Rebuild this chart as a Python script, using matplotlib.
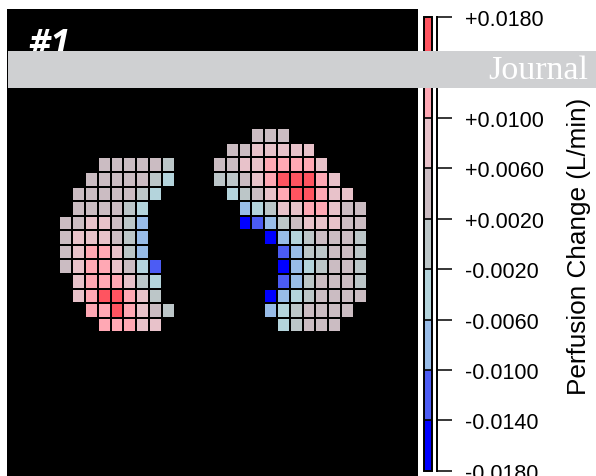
import numpy as np
import matplotlib
matplotlib.use("Agg")
import matplotlib.pyplot as plt
from matplotlib.colors import ListedColormap, BoundaryNorm
from matplotlib.patches import Rectangle

plt.rcParams['font.family'] = ['Liberation Sans', 'DejaVu Sans']

# perfusion change per lung region, one letter per level ('.' = outside lung)
perfusion_rows = [
    "...............PPP......",
    ".............PPKKKKK....",
    "...PPPPPG...PPKKRRRRK...",
    "..PPPPPGC...GGPKRXXXRK..",
    ".PPPPPGC.....CGPKRXXRKK.",
    ".PPPPGC.......LCGKKRRKPP",
    "PPKKPGL.......BMLGPKKKPP",
    "PKKKPGL.........BLCGPPPG",
    "PKRRKGL..........MLGGPPG",
    "PKRRKPCM.........BLCGPPG",
    ".KRRRKGC.........MLGPPPG",
    ".KRXXRKG........BLCGPPPP",
    "..RRXRKPG.......LCGPPPP.",
    "...RRRKK.........CGPPP..",
]
level_codes = "BMLCGPKRX"
level_values = [-0.016, -0.012, -0.008, -0.004, 0.0, 0.004, 0.008, 0.012, 0.016]

bounds = [-0.018, -0.014, -0.010, -0.006, -0.002, 0.002, 0.006, 0.010, 0.014, 0.018]
tick_labels = ["-0.0180", "-0.0140", "-0.0100", "-0.0060", "-0.0020",
               "+0.0020", "+0.0060", "+0.0100", "+0.0140", "+0.0180"]
level_colors = ["#0000ff", "#4c5cf4", "#98bce8", "#b4d4dc", "#bcc6c8",
                "#cbbcc2", "#e8c2ca", "#ffa8b4", "#ff5460"]

lookup = dict(zip(level_codes, level_values))
grid = np.full((len(perfusion_rows), len(perfusion_rows[0])), np.nan)
for r, row in enumerate(perfusion_rows):
    for c, ch in enumerate(row):
        if ch in lookup:
            grid[r, c] = lookup[ch]
grid = np.ma.masked_invalid(grid)

cmap = ListedColormap(level_colors)
norm = BoundaryNorm(bounds, cmap.N)

fig = plt.figure(figsize=(5.96, 4.77), dpi=100)
fig.patch.set_facecolor("white")

ax = fig.add_axes([7 / 596, 0.0, 411 / 596, 1 - 10 / 477])
ax.set_facecolor("black")
mesh = ax.pcolormesh(np.arange(grid.shape[1] + 1), np.arange(grid.shape[0] + 1), grid,
                     cmap=cmap, norm=norm, edgecolors="black", linewidth=1.4)
ax.set_xlim(-4.086, 28.02)
ax.set_ylim(23.86, -8.19)
ax.set_xticks([])
ax.set_yticks([])
for s in ax.spines.values():
    s.set_visible(False)

cax = fig.add_axes([424.3 / 596, 1 - 471.7 / 477, 8 / 596, (471.7 - 18.3) / 477])
cb = fig.colorbar(mesh, cax=cax, drawedges=True)
cb.set_ticks(bounds, labels=tick_labels)
cb.outline.set_linewidth(1.4)
cb.dividers.set_linewidth(1.2)
cax.yaxis.set_ticks_position("right")
cax.spines["right"].set_visible(True)
cax.spines["right"].set_position(("outward", 3.6))
cax.spines["right"].set_linewidth(1.4)
cax.tick_params(axis="y", length=10.8, width=1.1, pad=9, labelsize=15.5, colors="black")

fig.text(579 / 596, 1 - 246 / 477, "Perfusion Change (L/min)", rotation=90,
         ha="center", va="center", fontsize=18.8)

fig.text(28 / 596, 1 - 28 / 477, "#1", color="white", fontsize=25,
         fontweight="bold", fontstyle="italic", family=["Open Sans", "DejaVu Sans"],
         ha="left", va="top")

# watermark strip across the top
fig.add_artist(Rectangle((8 / 596, 1 - 89 / 477), 588 / 596, 37 / 477,
                         transform=fig.transFigure, facecolor="#cfd0d2",
                         edgecolor="none", zorder=10))
fig.text(588 / 596, 1 - 70.5 / 477, "Journal", color="white", fontsize=24.5,
         family=["Liberation Serif", "DejaVu Serif"], ha="right", va="center", zorder=11)

fig.savefig("out.png", dpi=100)
